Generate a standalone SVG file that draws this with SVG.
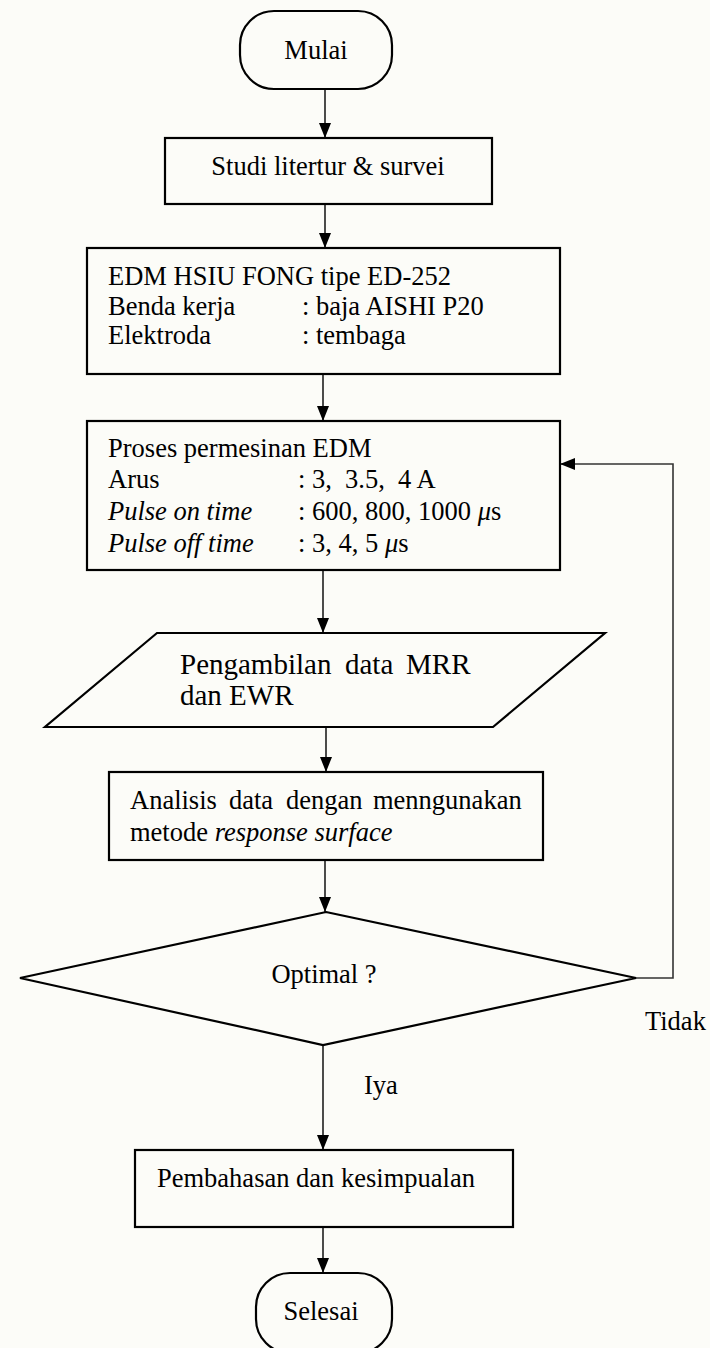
<svg xmlns="http://www.w3.org/2000/svg" width="710" height="1348" viewBox="0 0 710 1348">
<defs>
<marker id="ah" viewBox="0 0 15 12" refX="15" refY="6" markerWidth="15" markerHeight="12" markerUnits="userSpaceOnUse" orient="auto">
<path d="M0,0 L15,6 L0,12 z" fill="#000"/>
</marker>
<style>
.shape{fill:none;stroke:#000;stroke-width:2.2}
.t{font-family:"Liberation Serif","Times New Roman",serif;font-size:26.5px;fill:#000;white-space:pre}
.big{font-size:29px}
.i{font-style:italic}
.c{text-anchor:middle}
.conn{fill:none;stroke:#000;stroke-width:1.4;marker-end:url(#ah)}
.fb{fill:none;stroke:#333;stroke-width:1.6;marker-end:url(#ah)}
</style>
</defs>
<rect x="0" y="0" width="710" height="1348" fill="#fcfcf8"/>

<g id="connectors">
<line class="conn" x1="325" y1="89" x2="325" y2="138"/>
<line class="conn" x1="325" y1="204" x2="325" y2="248"/>
<line class="conn" x1="323" y1="374" x2="323" y2="421"/>
<line class="conn" x1="323" y1="570" x2="323" y2="633"/>
<line class="conn" x1="326" y1="727" x2="326" y2="772"/>
<line class="conn" x1="325" y1="860" x2="325" y2="912"/>
<line class="conn" x1="323" y1="1045" x2="323" y2="1150"/>
<line class="conn" x1="323" y1="1227" x2="323" y2="1273"/>
<polyline class="fb" points="636,978 673,978 673,464 560,464"/>
<text class="t" x="645" y="1030">Tidak</text>
<text class="t" x="364" y="1094">Iya</text>
</g>

<g id="mulai">
<rect class="shape" x="240" y="11" width="152" height="78" rx="34" ry="34"/>
<text class="t c" x="316" y="59">Mulai</text>
</g>

<g id="studi">
<rect class="shape" x="165" y="138" width="327" height="66"/>
<text class="t c" x="328" y="175">Studi litertur &amp; survei</text>
</g>

<g id="edm">
<rect class="shape" x="87" y="248" width="473" height="126"/>
<text class="t" x="108" y="285">EDM HSIU FONG tipe ED-252</text>
<text class="t" x="108" y="315">Benda kerja</text>
<text class="t" x="302" y="315">: baja AISHI P20</text>
<text class="t" x="108" y="344">Elektroda</text>
<text class="t" x="302" y="344">: tembaga</text>
</g>

<g id="proses">
<rect class="shape" x="87" y="421" width="473" height="149"/>
<text class="t" x="108" y="457">Proses permesinan EDM</text>
<text class="t" x="108" y="488">Arus</text>
<text class="t" x="298" y="488">: 3,  3.5,  4 A</text>
<text class="t i" x="108" y="520">Pulse on time</text>
<text class="t" x="298" y="520">: 600, 800, 1000 <tspan class="i">μ</tspan>s</text>
<text class="t i" x="108" y="552">Pulse off time</text>
<text class="t" x="298" y="552">: 3, 4, 5 <tspan class="i">μ</tspan>s</text>
</g>

<g id="pengambilan">
<polygon class="shape" points="157,633 605,633 493,727 45,727"/>
<text class="t big" y="674"><tspan x="180">Pengambilan</tspan><tspan x="345">data</tspan><tspan x="406">MRR</tspan></text>
<text class="t big" x="180" y="705">dan EWR</text>
</g>

<g id="analisis">
<rect class="shape" x="109" y="772" width="434" height="88"/>
<text class="t" y="809"><tspan x="130">Analisis</tspan><tspan x="229">data</tspan><tspan x="286">dengan</tspan><tspan x="373">menngunakan</tspan></text>
<text class="t" x="130" y="841">metode <tspan class="i">response surface</tspan></text>
</g>

<g id="optimal">
<polygon class="shape" points="326,912 636,978 323,1045 20,978"/>
<text class="t c" x="324" y="983">Optimal ?</text>
</g>

<g id="pembahasan">
<rect class="shape" x="135" y="1150" width="378" height="77"/>
<text class="t" x="157" y="1187">Pembahasan dan kesimpualan</text>
</g>

<g id="selesai">
<rect class="shape" x="256" y="1273" width="136" height="80" rx="34" ry="34"/>
<text class="t c" x="321" y="1320">Selesai</text>
</g>
</svg>
